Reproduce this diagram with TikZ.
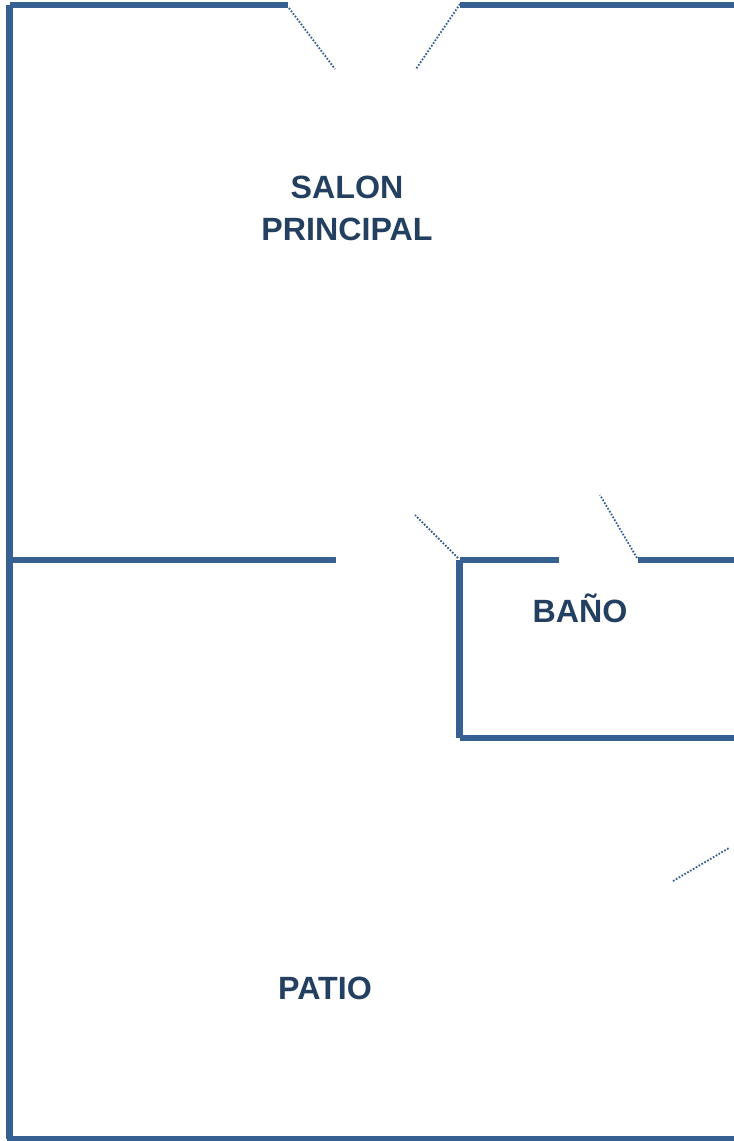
\documentclass[tikz,border=0pt]{standalone}
\usepackage{fontspec}
\setmainfont{Liberation Sans}
\definecolor{wallblue}{HTML}{376092}
\definecolor{labelblue}{HTML}{244061}
\tikzset{
  wall/.style = {draw = wallblue, line width = 4.6pt},
  swing/.style = {draw = wallblue, line width = 1.3pt, dash pattern = on 1.2pt off 1.15pt},
  room/.style = {text = labelblue, font = \fontsize{22.9pt}{29.8pt}\selectfont\bfseries, align = center, anchor = base, inner sep = 0pt}
}

\begin{document}
\begin{tikzpicture}[x = 0.025cm, y = -0.025cm]
\useasboundingbox (0, 0) rectangle (734, 1141);
% Outer walls
\draw[wall](9.5, 5) -- (288, 5);
\draw[wall](460, 5) -- (734, 5);
\draw[wall](9.5, 5) -- (9.5, 1139);
\draw[wall](6.5, 1139) -- (734, 1139);
% Inner walls
\draw[wall](9.5, 560) -- (336, 560);
\draw[wall](459.5, 560) -- (559, 560);
\draw[wall](638, 560) -- (734, 560);
\draw[wall](459.5, 560) -- (459.5, 738);
\draw[wall](459.5, 738) -- (734, 738);
% Door swings
\draw[swing](289, 8) -- (335, 69);
\draw[swing](460, 4) -- (416, 69);
\draw[swing](458, 558) -- (415, 515);
\draw[swing](637, 558) -- (600, 495);
\draw[swing](673, 881) -- (729, 848);
% Room labels
\node[room] (salon) at (347, 199) {SALON};
\node[room] (principal) at (347, 241) {PRINCIPAL};
\node[room] (bano) at (580, 622) {BAÑO};
\node[room] (patio) at (325, 999) {PATIO};
\end{tikzpicture}
\end{document}
